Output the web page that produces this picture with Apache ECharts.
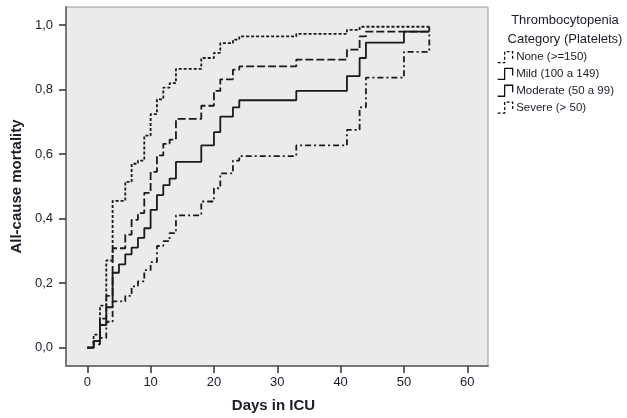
<!DOCTYPE html>
<html>
<head>
<meta charset="utf-8">
<script src="https://cdn.jsdelivr.net/npm/echarts@6/dist/echarts.min.js"></script>
<style>
html,body{margin:0;padding:0;background:#fff;}
#chart{width:627px;height:418px;}
</style>
</head>
<body>
<div id="chart"></div>
<script>
// Categories (legend)
var categories = ['None (>=150)', 'Mild (100 a 149)', 'Moderate (50 a 99)', 'Severe (> 50)'];
var legendTitle = 'Thrombocytopenia\nCategory (Platelets)';
var xTicks = [0, 10, 20, 30, 40, 50, 60];
var yTicks = [0, 0.2, 0.4, 0.6, 0.8, 1.0];

// Cumulative mortality steps [day, value]
var noneData = [[0,0],[1,0.04],[2,0.13],[3,0.27],[4,0.455],[6,0.514],[7,0.57],[8,0.58],[9,0.657],[10,0.724],[11,0.77],[12,0.806],[13,0.82],[14,0.864],[18,0.898],[20,0.914],[21,0.944],[23,0.955],[24,0.965],[33,0.973],[41,0.985],[43,0.995],[54,0.995]];
var mildData = [[0,0],[1,0.02],[2,0.09],[3,0.16],[4,0.308],[6,0.35],[7,0.396],[8,0.417],[9,0.48],[10,0.545],[11,0.596],[12,0.632],[13,0.645],[14,0.709],[18,0.75],[20,0.796],[21,0.832],[23,0.862],[24,0.872],[33,0.893],[41,0.924],[43,0.965],[44,0.98],[54,0.98]];
var moderateData = [[0,0],[1,0.02],[2,0.07],[3,0.125],[4,0.232],[5,0.258],[6,0.289],[7,0.31],[8,0.34],[9,0.37],[10,0.427],[11,0.473],[12,0.504],[13,0.524],[14,0.576],[18,0.627],[20,0.668],[21,0.716],[23,0.745],[24,0.767],[33,0.796],[41,0.842],[43,0.898],[44,0.946],[50,0.98],[54,0.98]];
var severeData = [[0,0],[1,0.01],[2,0.03],[3,0.08],[4,0.143],[6,0.16],[7,0.19],[8,0.205],[9,0.24],[10,0.265],[11,0.315],[12,0.33],[13,0.355],[14,0.41],[18,0.453],[20,0.494],[21,0.54],[23,0.58],[24,0.594],[33,0.627],[41,0.675],[43,0.745],[44,0.837],[50,0.917],[54,0.995]];

var seriesData = [noneData, mildData, moderateData, severeData];
var dashes = [[3,2],[8,3],'solid',[6,3,2,3]];
var legendDashes = [[3,2],'solid','solid',[3,2]];

var FONT = '"Liberation Sans", Arial, sans-serif';
var lineColor = '#1a1a1a';
var stepIcon = 'path://M0,12 L7,12 L7,1 L15,1 L15,8';

var chart = echarts.init(document.getElementById('chart'), null, {renderer: 'canvas'});

var series = categories.map(function (name, i) {
  return {
    name: name,
    type: 'line',
    step: 'end',
    data: seriesData[i],
    showSymbol: false,
    symbol: 'none',
    animation: false,
    lineStyle: {color: lineColor, width: 1.8, type: dashes[i]},
    itemStyle: {color: lineColor}
  };
});

var option = {
  animation: false,
  backgroundColor: '#ffffff',
  title: {
    text: legendTitle,
    left: 560,
    top: 6,
    textAlign: 'center',
    textStyle: {fontFamily: FONT, fontSize: 13, fontWeight: 'normal', color: '#1c1c28', lineHeight: 19}
  },
  legend: {
    orient: 'vertical',
    left: 492,
    top: 46,
    itemGap: 4.5,
    itemWidth: 18,
    itemHeight: 11,
    textStyle: {fontFamily: FONT, fontSize: 11.5, color: '#1c1c28', padding: [0,0,0,-3]},
    data: categories.map(function (name, i) {
      return {
        name: name,
        icon: stepIcon,
        itemStyle: {color: 'rgba(0,0,0,0)', borderColor: '#111', borderWidth: 1.3, borderType: legendDashes[i]}
      };
    })
  },
  grid: {
    left: 66, right: 139, top: 7, bottom: 49,
    show: true,
    backgroundColor: '#ebebeb',
    borderColor: '#9a9a9a',
    borderWidth: 1
  },
  xAxis: {
    type: 'value',
    min: -3.36, max: 63.27,
    name: 'Days in ICU',
    nameLocation: 'middle',
    nameGap: 32,
    nameTextStyle: {fontFamily: FONT, fontSize: 15, fontWeight: 'bold', color: '#1c1c28', padding: [0, 7, 0, 0]},
    axisLine: {show: true, onZero: false, lineStyle: {color: '#777', width: 2}},
    axisTick: {show: true, length: 7, lineStyle: {color: '#333', width: 1.5}, customValues: xTicks},
    axisLabel: {fontFamily: FONT, fontSize: 13, color: '#1c1c28', margin: 10, customValues: xTicks},
    splitLine: {show: false}
  },
  yAxis: {
    type: 'value',
    min: -0.0572, max: 1.0562,
    name: 'All-cause mortality',
    nameLocation: 'middle',
    nameGap: 33,
    nameTextStyle: {fontFamily: FONT, fontSize: 15, fontWeight: 'bold', color: '#1c1c28'},
    axisLine: {show: true, onZero: false, lineStyle: {color: '#777', width: 2}},
    axisTick: {show: true, length: 7, lineStyle: {color: '#333', width: 1.5}, customValues: yTicks},
    axisLabel: {fontFamily: FONT, fontSize: 13, color: '#1c1c28', margin: 13, customValues: yTicks,
      formatter: function (v) { return v.toFixed(1).replace('.', ','); }},
    splitLine: {show: false}
  },
  series: series
};

chart.setOption(option);
</script>
</body>
</html>
